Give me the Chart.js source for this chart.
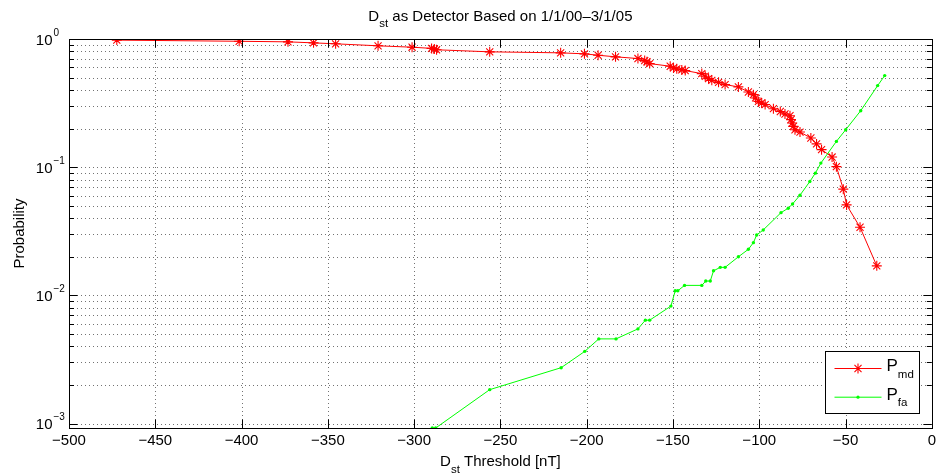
<!DOCTYPE html>
<html><head><meta charset="utf-8">
<script src="https://cdn.jsdelivr.net/npm/chart.js@4.4.1/dist/chart.umd.min.js"></script>
<style>html,body{margin:0;padding:0;background:#fff;}canvas{display:block;}</style>
</head><body>
<canvas id="c" width="940" height="476"></canvas>
<script>
// ---- data ----
const mdThreshold = [-472.3,-401.4,-373.1,-358.3,-345.5,-320.9,-301.2,-289.9,-288.3,-287.0,-256.2,-215.1,-201.3,-193.4,-183.3,-170.3,-166.4,-165.1,-163.5,-151.6,-149.7,-147.8,-144.9,-142.9,-133.3,-131.3,-129.4,-127.5,-123.6,-119.8,-112.1,-106.3,-103.4,-102.1,-100.5,-98.6,-96.6,-91.8,-87.8,-85.1,-82.2,-81.6,-80.9,-80.3,-79.3,-76.4,-70.1,-66.8,-63.9,-57.8,-55.3,-51.3,-49.4,-41.6,-31.9];
const mdProb = [0.98,0.96,0.95,0.933,0.917,0.885,0.863,0.845,0.835,0.824,0.794,0.780,0.766,0.747,0.726,0.704,0.679,0.664,0.643,0.613,0.595,0.585,0.574,0.567,0.537,0.512,0.491,0.476,0.459,0.441,0.423,0.386,0.368,0.347,0.326,0.317,0.308,0.286,0.272,0.260,0.252,0.235,0.221,0.208,0.196,0.188,0.169,0.152,0.137,0.120,0.101,0.0674,0.0508,0.034,0.017];
const faThreshold = [-289.5,-287.5,-256.2,-214.8,-201.1,-193.0,-183.0,-170.3,-166.0,-163.5,-151.2,-148.7,-147.2,-143.3,-133.3,-131.0,-128.4,-126.5,-122.6,-119.8,-112.1,-106.3,-103.4,-101.5,-97.7,-87.4,-83.2,-80.7,-76.4,-70.7,-67.5,-64.3,-55.3,-49.9,-41.2,-31.4,-27.3];
const faProb = [0.000924,0.000924,0.00184,0.00273,0.00366,0.00458,0.00458,0.00548,0.00641,0.00641,0.00825,0.01086,0.01086,0.01197,0.01197,0.01294,0.01294,0.01556,0.01655,0.01655,0.0200,0.0229,0.0258,0.0296,0.0324,0.0442,0.0479,0.0517,0.0605,0.0773,0.0899,0.1076,0.159,0.196,0.276,0.433,0.518];
const xRange = [-500, 0];
const xStep = 50;
const yRange = [0.000924, 1];
const yDecadeExponents = [0, -1, -2, -3];
const seriesNames = [['P','md'], ['P','fa']];
const titleParts = ['D', 'st', ' as Detector Based on 1/1/00\u20133/1/05'];
const xLabelParts = ['D', 'st', ' Threshold [nT]'];
const yLabelText = 'Probability';

const FONT = '"Liberation Sans", Arial, Helvetica, sans-serif';
const RED = '#ff0000', GREEN = '#00ff00';

function subWidth(ctx, parts, size, subSize) {
  ctx.font = size + 'px ' + FONT;
  const w0 = ctx.measureText(parts[0]).width;
  const w2 = parts[2] ? ctx.measureText(parts[2]).width : 0;
  ctx.font = subSize + 'px ' + FONT;
  const w1 = ctx.measureText(parts[1]).width;
  return [w0, w1, w2];
}
function drawSubText(ctx, parts, x, baseline, size, subSize, drop, center) {
  const [w0, w1, w2] = subWidth(ctx, parts, size, subSize);
  let cx = center ? x - (w0 + w1 + w2) / 2 : x;
  ctx.textAlign = 'left'; ctx.textBaseline = 'alphabetic'; ctx.fillStyle = '#000';
  ctx.font = size + 'px ' + FONT; ctx.fillText(parts[0], cx, baseline); cx += w0;
  ctx.font = subSize + 'px ' + FONT; ctx.fillText(parts[1], cx, baseline + drop); cx += w1;
  if (parts[2]) { ctx.font = size + 'px ' + FONT; ctx.fillText(parts[2], cx, baseline); }
}
function drawStar(ctx, x, y, r, color) {
  ctx.save(); ctx.strokeStyle = color; ctx.lineWidth = 1.1; ctx.beginPath();
  for (let k = 0; k < 4; k++) {
    const a = k * Math.PI / 4;
    ctx.moveTo(x - r * Math.cos(a), y - r * Math.sin(a));
    ctx.lineTo(x + r * Math.cos(a), y + r * Math.sin(a));
  }
  ctx.stroke(); ctx.restore();
}

const matlabPlugin = {
  id: 'matlab',
  beforeDatasetsDraw(chart) {
    const {ctx, chartArea: a, scales: {x, y}} = chart;
    ctx.save();
    ctx.strokeStyle = 'rgba(0,0,0,0.55)'; ctx.lineWidth = 1; ctx.setLineDash([1, 3]);
    x.ticks.forEach(t => {
      const px = Math.round(x.getPixelForValue(t.value)) + 0.5;
      if (px <= a.left + 1 || px >= a.right - 1) return;
      ctx.beginPath(); ctx.moveTo(px, a.top); ctx.lineTo(px, a.bottom); ctx.stroke();
    });
    y.ticks.forEach(t => {
      const py = Math.round(y.getPixelForValue(t.value)) + 0.5;
      if (py <= a.top + 1 || py >= a.bottom - 1) return;
      ctx.beginPath(); ctx.moveTo(a.left, py); ctx.lineTo(a.right, py); ctx.stroke();
    });
    ctx.restore();
  },
  afterDatasetsDraw(chart) {
    const {ctx, chartArea: a, scales: {x, y}} = chart;
    ctx.save();
    ctx.strokeStyle = '#000'; ctx.lineWidth = 1; ctx.setLineDash([]);
    const TL = 8.5, TS = 5;
    x.ticks.forEach(t => {
      const px = Math.round(x.getPixelForValue(t.value)) + 0.5;
      ctx.beginPath();
      ctx.moveTo(px, a.bottom); ctx.lineTo(px, a.bottom - TL);
      ctx.moveTo(px, a.top); ctx.lineTo(px, a.top + TL);
      ctx.stroke();
    });
    y.ticks.forEach(t => {
      const py = Math.round(y.getPixelForValue(t.value)) + 0.5;
      const major = Math.abs(Math.log10(t.value) - Math.round(Math.log10(t.value))) < 1e-6;
      const L = major ? TL : TS;
      ctx.beginPath();
      ctx.moveTo(a.left, py); ctx.lineTo(a.left + L, py);
      ctx.moveTo(a.right, py); ctx.lineTo(a.right - L, py);
      ctx.stroke();
    });
    ctx.strokeRect(Math.round(a.left) + 0.5, Math.round(a.top) + 0.5, Math.round(a.right - a.left), Math.round(a.bottom - a.top));
    ctx.fillStyle = '#000';
    yDecadeExponents.forEach(e => {
      const py = y.getPixelForValue(Math.pow(10, e));
      ctx.font = '15px ' + FONT; ctx.textAlign = 'right'; ctx.textBaseline = 'alphabetic';
      ctx.fillText('10', a.left - 16.5, py + 5.5);
      ctx.font = '10px ' + FONT; ctx.textAlign = 'left';
      const s = e < 0 ? '\u2212' + Math.abs(e) : String(e);
      ctx.fillText(s, a.left - 15.5, py - 3.5);
    });
    drawSubText(ctx, titleParts, (a.left + a.right) / 2, 21, 15, 11.5, 6, true);
    drawSubText(ctx, xLabelParts, (a.left + a.right) / 2, 466, 15, 11.5, 7, true);
    ctx.save();
    ctx.translate(24, (a.top + a.bottom) / 2);
    ctx.rotate(-Math.PI / 2);
    ctx.font = '15px ' + FONT; ctx.textAlign = 'center'; ctx.textBaseline = 'alphabetic';
    ctx.fillText(yLabelText, 0, 0);
    ctx.restore();
    const bw = 94, bh = 62;
    const bx = Math.round(a.right - 13 - bw) + 0.5, by = Math.round(a.bottom - 15 - bh) + 0.5;
    ctx.fillStyle = '#fff'; ctx.fillRect(bx, by, bw, bh);
    ctx.strokeStyle = '#000'; ctx.lineWidth = 1; ctx.strokeRect(bx, by, bw, bh);
    const rows = [{c: RED, star: true}, {c: GREEN, star: false}];
    rows.forEach((r, i) => {
      const ly = by + 17 + i * 28.7;
      ctx.strokeStyle = r.c; ctx.lineWidth = 1;
      ctx.beginPath(); ctx.moveTo(bx + 9, ly); ctx.lineTo(bx + 56, ly); ctx.stroke();
      if (r.star) drawStar(ctx, bx + 32.5, ly, 5, r.c);
      else { ctx.fillStyle = r.c; ctx.beginPath(); ctx.arc(bx + 32.5, ly, 1.6, 0, Math.PI * 2); ctx.fill(); }
      drawSubText(ctx, seriesNames[i], bx + 61, ly + 2.7, 17, 11.5, 6.5, false);
    });
    ctx.restore();
  }
};

new Chart(document.getElementById('c'), {
  type: 'line',
  data: {
    datasets: [
      {
        label: seriesNames[0].join(''),
        data: mdThreshold.map((t, i) => ({x: t, y: mdProb[i]})),
        borderColor: RED, backgroundColor: RED, borderWidth: 1,
        pointStyle: 'star', pointRadius: 5, pointBorderWidth: 1.1, pointBorderColor: RED,
        tension: 0, fill: false, order: 1
      },
      {
        label: seriesNames[1].join(''),
        data: faThreshold.map((t, i) => ({x: t, y: faProb[i]})),
        borderColor: GREEN, backgroundColor: GREEN, borderWidth: 1,
        pointStyle: 'circle', pointRadius: 1.7, pointBorderWidth: 0, pointBackgroundColor: GREEN,
        tension: 0, fill: false, order: 0
      }
    ]
  },
  options: {
    responsive: false, animation: false, devicePixelRatio: 1,
    layout: {padding: {top: 39, right: 6, left: 0, bottom: 0}},
    plugins: {legend: {display: false}, tooltip: {enabled: false}, title: {display: false}},
    scales: {
      x: {
        type: 'linear', min: xRange[0], max: xRange[1],
        ticks: {
          stepSize: xStep, autoSkip: false, maxRotation: 0, padding: 4, color: '#000',
          font: {family: FONT, size: 15},
          callback: v => (v < 0 ? '\u2212' + Math.abs(v) : String(v))
        },
        grid: {display: false, drawTicks: false}, border: {display: false},
        afterFit: s => { s.height = 48; }
      },
      y: {
        type: 'logarithmic', min: yRange[0], max: yRange[1],
        afterBuildTicks: s => {
          const t = [];
          for (let e = -4; e <= 0; e++) for (let m = 1; m <= 9; m++) {
            const v = m * Math.pow(10, e);
            if (v >= s.min * 0.9999 && v <= s.max * 1.0001) t.push({value: v});
          }
          s.ticks = t;
        },
        ticks: {autoSkip: false, callback: () => ''},
        grid: {display: false, drawTicks: false}, border: {display: false},
        afterFit: s => { s.width = 69; }
      }
    }
  },
  plugins: [matlabPlugin]
});
</script>
</body></html>
